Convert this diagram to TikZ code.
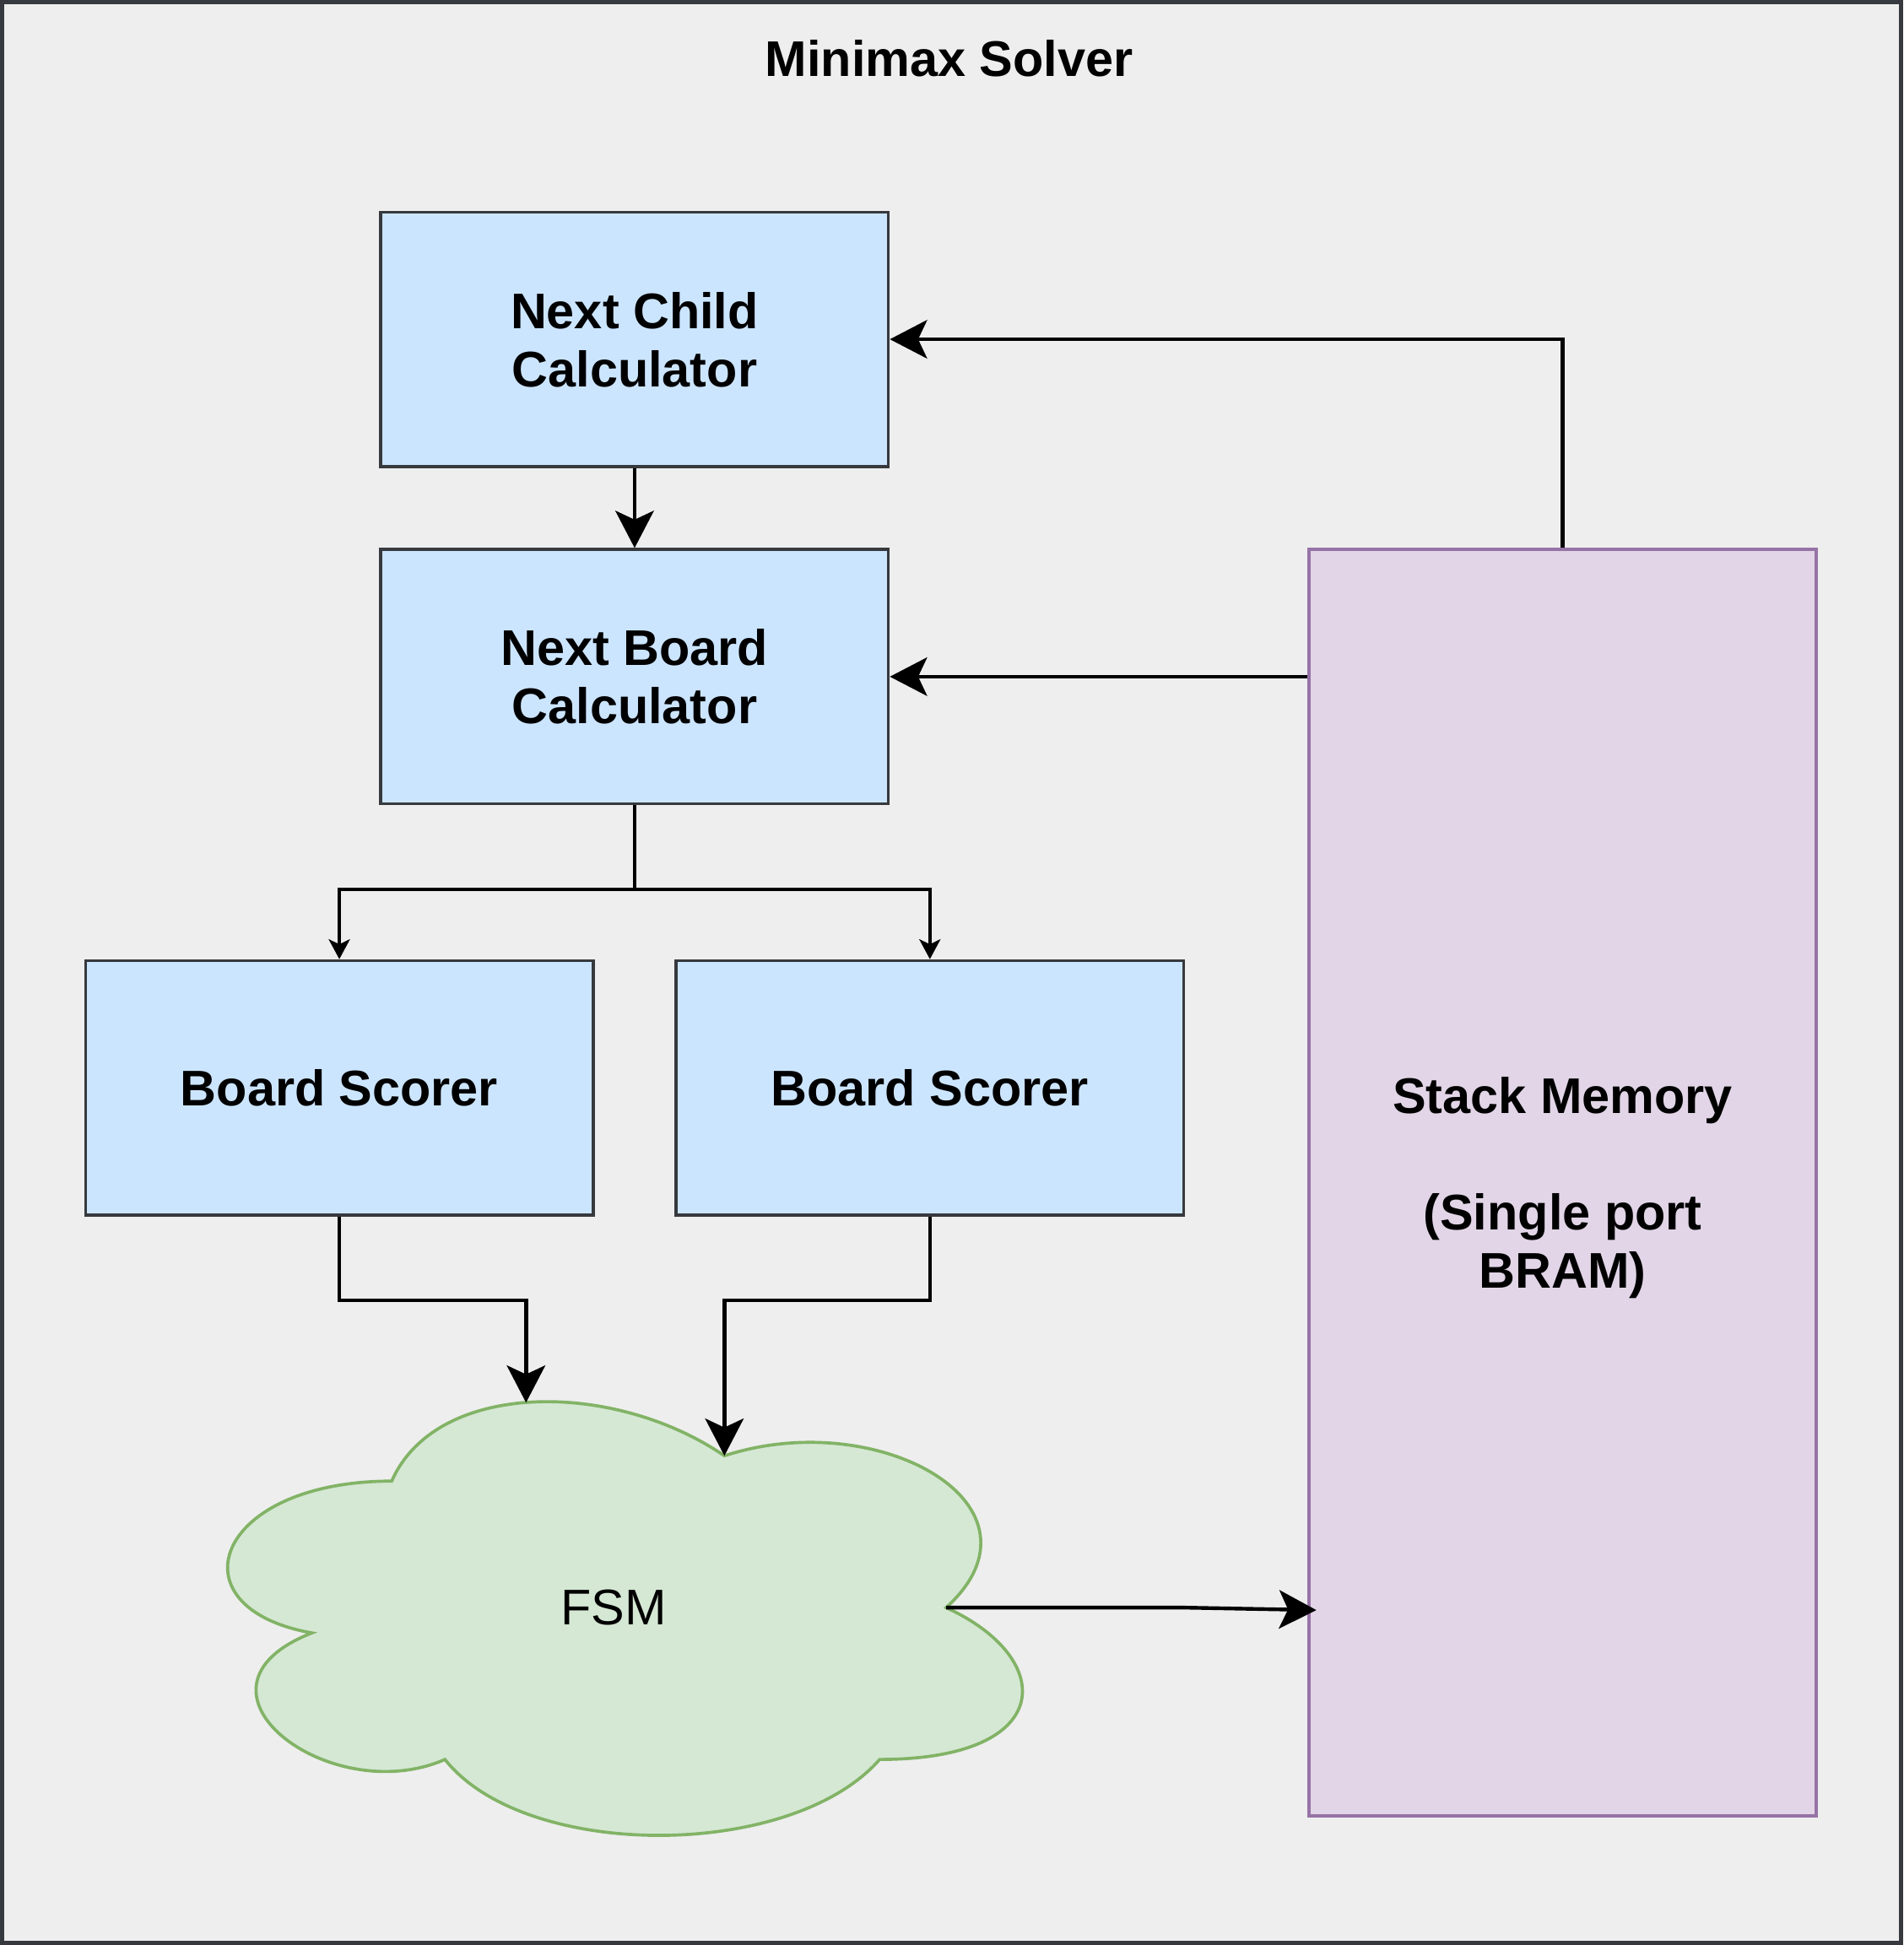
\documentclass[tikz,border=0pt]{standalone}
\usepackage{fontspec}
\setmainfont{Liberation Sans}
\usetikzlibrary{arrows.meta,positioning,calc}

\definecolor{frameline}{HTML}{36393D}
\definecolor{framefill}{HTML}{EEEEEE}
\definecolor{blockfill}{HTML}{CCE5FF}
\definecolor{stackfill}{HTML}{E1D5E7}
\definecolor{stackline}{HTML}{9673A6}
\definecolor{cloudfill}{HTML}{D5E8D4}
\definecolor{cloudline}{HTML}{82B366}

\begin{document}
\begin{tikzpicture}[x=0.5pt, y=-0.5pt,
  labelfont/.style={font=\fontsize{20.2}{23.5}\selectfont},
  block/.style={rectangle, draw=frameline, fill=blockfill, line width=1.25pt, minimum width=204.5pt, minimum height=102.5pt, align=center, font=\fontsize{20.2}{23.5}\selectfont\bfseries},
  bigarrow/.style={-{Stealth[length=15pt, width=15.5pt, inset=3.6pt]}, line width=1.5pt},
  smallarrow/.style={-{Stealth[length=8pt, width=8.5pt, inset=2pt]}, line width=1.4pt}]
  \useasboundingbox (0,0) rectangle (1534,1568);
  \draw [draw=frameline, fill=framefill, line width=1.6pt] (1.6,1.6) rectangle (1532.4,1566.4);

  \node (title) [labelfont, font=\fontsize{20.2}{23.5}\selectfont\bfseries] at (765,47) {Minimax Solver};

  \node (nextchild) [block, text depth=-2pt] at (511.5,273.5) {Next Child\\Calculator};
  \node (nextboard) [block, text depth=-1.3pt] at (511.5,545.5) {Next Board\\Calculator};
  \node (scorerA) [block, text depth=-5.5pt] at (273.5,877) {Board Scorer};
  \node (scorerB) [block, text depth=-5.5pt] at (749.5,877) {Board Scorer};

  \node (stack) [rectangle, draw=stackline, fill=stackfill, line width=1.25pt, minimum width=204.5pt, minimum height=510.5pt, align=center, font=\fontsize{20.2}{23.5}\selectfont\bfseries, text depth=-0.7pt] at (1259.5,953.5) {Stack Memory\\[23.5pt](Single port\\BRAM)};

  % cloud drawn in its own box
  \begin{scope}[shift={(137,1092)}, x=357.5pt, y=-204pt]
    \draw [draw=cloudline, fill=cloudfill, line width=1.25pt]
      (0.25,0.25) .. controls (0.05,0.25) and (0,0.5) .. (0.16,0.55)
      .. controls (0,0.66) and (0.18,0.9) .. (0.31,0.8)
      .. controls (0.4,1) and (0.7,1) .. (0.8,0.8)
      .. controls (1,0.8) and (1,0.6) .. (0.875,0.5)
      .. controls (1,0.3) and (0.8,0.1) .. (0.625,0.2)
      .. controls (0.5,0.05) and (0.3,0.05) .. (0.25,0.25) -- cycle;
    \node (fsm) [labelfont, text depth=-1.7pt] at (0.5,0.5) {FSM};
    \coordinate (fsmtop) at (0.4014,0.095);
    \coordinate (fsmnotch) at (0.625,0.2);
    \coordinate (fsmright) at (0.875,0.5);
  \end{scope}

  \coordinate (fork) at ($(nextboard.south)+(0,68)$);
  \coordinate (stackin) at (1061,1298);

  \draw [bigarrow] (stack.north) |- (nextchild.east);
  \draw [bigarrow] (stack.west |- nextboard.east) -- (nextboard.east);
  \draw [bigarrow] (nextchild.south) -- (nextboard.north);
  \draw [smallarrow] (nextboard.south) -- (fork) -| (scorerA.north);
  \draw [smallarrow] (fork) -| (scorerB.north);
  \draw [bigarrow] (scorerA.south) -- ++(0,67.5) -| (fsmtop);
  \draw [bigarrow] (scorerB.south) -- ++(0,67.5) -| (fsmnotch);
  \draw [bigarrow] (fsmright) -- (955,1296) -- (stackin);
\end{tikzpicture}
\end{document}
